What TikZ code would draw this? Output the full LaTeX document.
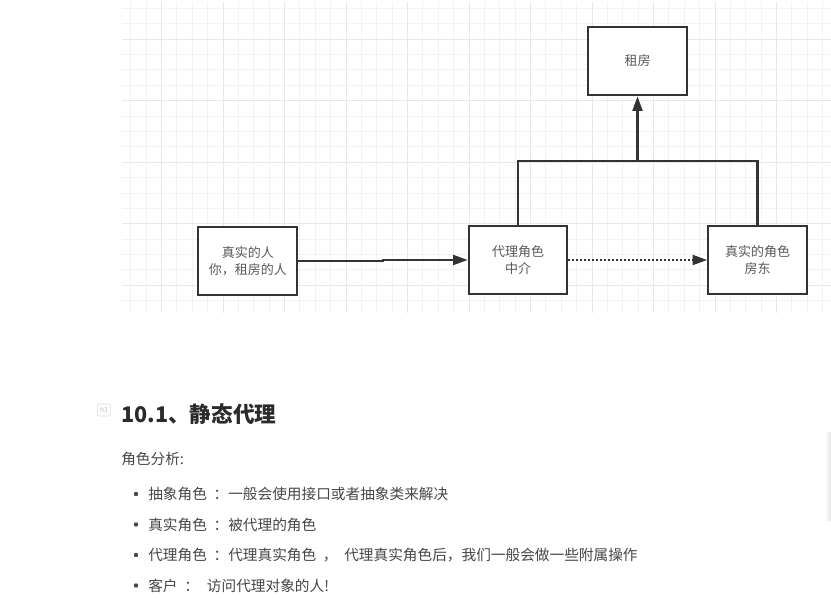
\documentclass[tikz,border=0pt]{standalone}
\usepackage{fontspec}
\setmainfont{Noto Sans CJK SC}
\usetikzlibrary{arrows.meta}
\definecolor{boxline}{HTML}{333333}
\definecolor{boxtext}{HTML}{595959}
\definecolor{gridminor}{HTML}{F3F3F3}
\definecolor{gridmajor}{HTML}{E8E8E8}
\definecolor{bodytext}{HTML}{474747}
\definecolor{headtext}{HTML}{2B2B2B}

\begin{document}
\begin{tikzpicture}[x=0.75pt,y=-0.75pt,
  role/.style={draw=boxline,line width=1.5pt,fill=white,minimum width=74pt,minimum height=51.5pt,
    align=center,text=boxtext,font=\fontsize{9.75}{12.75}\selectfont,inner sep=0pt},
  link/.style={draw=boxline,line width=1.6pt,-{Triangle[length=11pt,width=7.5pt]}},
  item/.style={anchor=west,inner sep=0pt,text=bodytext,font=\fontsize{11}{13}\selectfont}]
\useasboundingbox (0,0) rectangle (831,606);
\fill[white] (0,0) rectangle (831,606);
% grid
\begin{scope}
\clip (122,3) rectangle (831,312);
\foreach \k in {0,...,45} \draw[gridminor,line width=0.75pt] ({130.8+15.375*\k},0) -- ++(0,320);
\foreach \k in {0,...,19} \draw[gridminor,line width=0.75pt] (120,{8.5+15.375*\k}) -- ++(720,0);
\foreach \k in {0,...,10} \draw[gridmajor,line width=0.9pt] ({161.7+61.5*\k},0) -- ++(0,320);
\foreach \k in {0,...,4} \draw[gridmajor,line width=0.9pt] (120,{39.3+61.5*\k}) -- ++(720,0);
\end{scope}
% boxes
\node[role] (rent) at (637.5,61) {租房};
\node[role] (person) at (247.8,261) {真实的人\\你，租房的人};
\node[role] (proxy) at (518,260) {代理角色\\中介};
\node[role] (landlord) at (757.5,260) {真实的角色\\房东};
\coordinate (split) at (637.5,160.7);
% connectors
\draw[link] (person.east) -- ++(85,0) |- (proxy.west);
\draw[link,dash pattern=on 1.5pt off 1.5pt] (proxy.east) -- (landlord.west);
\draw[boxline,line width=1.6pt] (proxy.north) |- (split) -| (landlord.north);
\draw[link] (split) -- (rent.south);
% text below
\node[draw=gray!30,rounded corners=1pt,minimum width=10pt,minimum height=9pt,inner sep=0pt,
  text=gray!55,font=\fontsize{5}{5}\selectfont] (tag) at (104,410) {h3};
\node[anchor=west,inner sep=0pt,text=headtext,font=\bfseries\fontsize{16.2}{19}\selectfont] (title) at (121,414.5) {10.1、静态代理};
\node[item] (intro) at (121,458.5) {角色分析:};
\foreach \y/\t in {494/抽象角色\hspace{5pt}：一般会使用接口或者抽象类来解决,
                   524.5/真实角色\hspace{5pt}：被代理的角色,
                   555/代理角色\hspace{5pt}：代理真实角色\hspace{5pt}，\hspace{5pt}代理真实角色后，我们一般会做一些附属操作,
                   585.5/客户\hspace{5pt}：\hspace{6pt}访问代理对象的人!} {
  \fill[bodytext] (136,\y) circle (2.2);
  \node[item] (line\y) at (148,\y) {\t};
}
\shade[left color=white,right color=gray!22] (825,432) rectangle (831,520);
\end{tikzpicture}
\end{document}
